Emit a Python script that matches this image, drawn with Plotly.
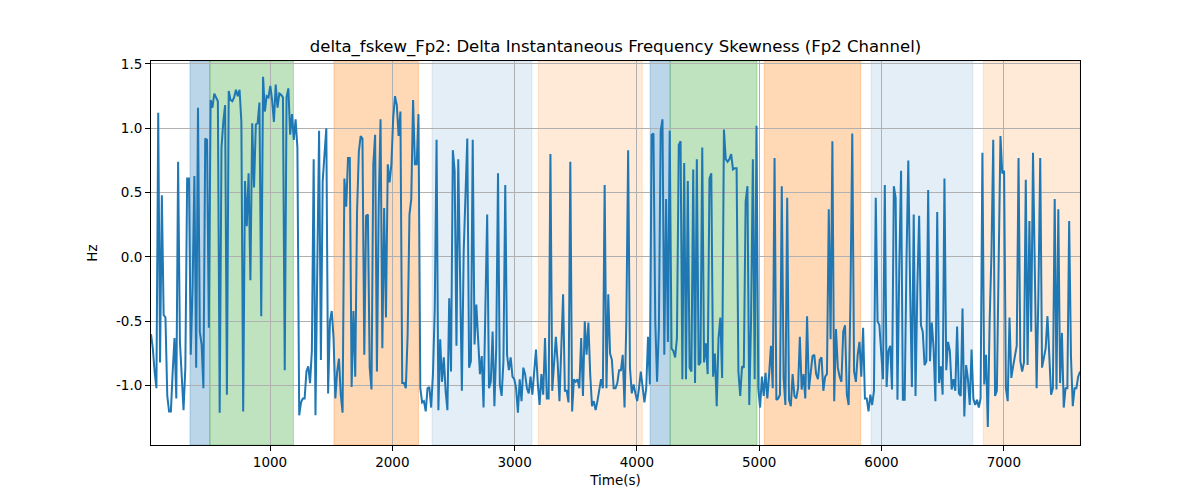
import numpy as np
import plotly.graph_objects as go

# ---- data (Hz) ----
seg1 = [-0.60,-0.71,-0.89,-1.02,1.12,-0.82,0.48,-0.45,-0.47,-1.08,-1.20,-1.20,-0.89,-0.63,-1.10,0.74,-0.66,-0.99,-1.19,-0.86,
        0.61,0.61,-0.76,-0.24,0.63,-0.86,1.16,-0.58,-0.68,-1.02,0.92,0.91,-0.55,1.22,1.16,1.27,1.24,1.21,-1.21,0.85,
        1.05,1.18,-1.07,1.29,1.22,1.21,1.24,1.30,1.25,1.30,1.05,-1.20,0.59,0.24,0.65,-0.18,1.04,0.54,1.03,1.04,1.20,-0.46,1.40]
seg2 = [1.13,1.25,1.24,1.33,1.22,1.05,1.34,1.16,1.27,1.26,1.24,-0.88,1.24,1.31,0.95,1.11,0.91,1.07,0.85,-1.23,
        -1.13,-1.10,-1.10,-0.89,-0.85,-0.98,-0.73,0.76,-1.23,-0.09,0.98,-0.80,0.59,0.80,1.00,-1.06,-0.50,-0.42,-0.63,-1.10,
        -0.89,-0.79,-1.07,-1.21,0.61,0.39,0.77,0.77,-1.01,-0.42,-0.93,0.35,0.82,0.94,0.92,-0.76,0.32,0.33,-0.86,-1.03,
        0.72,0.95,-0.89,0.41,1.07,-0.71,0.38]
seg3 = [-0.47,0.72,0.58,0.72,1.08,1.25,1.18,0.94,1.13,-0.98,-0.98,-1.02,-0.60,0.33,0.45,1.22,0.72,0.72,1.11,-1.02,
        -1.13,-1.12,-1.20,-1.02,-1.01,-1.17,-0.91,-0.40,0.91,-1.19,-0.64,-0.97,-0.78,-1.04,-1.19,-0.32,-0.89,0.83,0.67,-0.69,
        0.76,-0.24,-1.04,0.04,0.59,0.92,-0.86,-0.81,0.91,-0.68,-0.37,-0.71,-0.91,-0.77,-1.17,-0.40,0.33,-1.02,-0.97,-0.58,
        -1.16,-0.71,0.65,-0.99,-1.08,-0.81,0.56]
seg4 = [-0.76,-0.88,-0.78,-0.93,-0.95,-1.02,-1.21,-0.95,-1.12,-0.86,-0.91,-1.02,-1.06,-0.93,-1.07,-0.85,-0.72,-0.98,-1.15,-0.91,
        -1.07,-0.63,-1.10,-1.10,0.80,-1.04,-0.85,-0.62,-0.82,-1.12,-0.71,-0.29,-1.04,-1.04,-1.13,0.74,-1.20,-0.95,-0.97,-0.95,
        -1.02,-0.63,-1.08,-0.50,-0.76,-0.51,-0.91,-1.16,-1.12,-1.19,-1.12,-1.04,-0.95,-1.02,0.56,-1.02,-0.29,-0.75,-0.80,-1.02,
        -1.02,-0.98,-0.88,-0.88,-0.76,-1.17]
seg5 = [-0.50,0.83,-0.86,-1.06,-0.99,-1.06,-1.12,-1.02,-0.89,-1.01,-1.13,-1.02,-0.62,-0.99,0.95,0.96,-0.50,-0.97,-0.55,0.98,
        1.07,-0.76,0.45,-0.66,0.98,-0.71,-0.73,-0.78,-0.63,0.87,0.90,-0.95,0.73,-0.95,0.59,-0.86,-0.89,0.68,-0.98,0.76,
        -0.84,-0.82,0.85,-0.82,-0.67,-0.91,0.61,0.65,-0.93,-0.75,-1.16,-0.63,-0.47,-0.94,0.99,0.76,0.74,0.76,0.80,0.68,
        0.69,0.69,-0.89,-1.08,-0.85,-0.86,0.43,0.55]
seg6 = [-1.15,-0.50,0.76,-0.95,1.02,-1.02,-1.17,-0.93,-1.08,-0.90,-1.10,-0.91,-0.69,-1.02,0.77,-1.11,-1.10,-1.07,0.55,-0.94,
        -1.15,0.46,-1.11,-1.16,-0.91,-1.08,-1.10,-1.02,-0.62,-1.03,-0.91,-1.10,-0.46,-1.03,-0.91,-0.77,-0.76,-0.91,-0.95,-0.80,
        -0.78,-1.04,-0.93,-0.91,0.37,-0.64,0.90,-1.12,-0.56,-0.86,-0.93,-0.97,-0.58,-0.53,-1.07,-1.15,-0.32,0.96,-0.89,-0.97,
        -0.76,-0.66,-0.93,-0.55,-1.10]
seg7 = [-1.10,-1.20,-1.07,-1.15,-1.04,0.46,-0.50,-0.53,-0.71,-0.95,0.56,-1.01,-0.73,-0.69,-1.03,0.55,0.46,-1.11,-0.09,0.67,
        -1.11,-1.11,-0.03,0.75,-0.24,-1.01,0.33,-1.08,-0.24,0.32,-0.53,-0.58,-0.84,-0.81,0.52,-0.81,-0.51,-0.71,-1.12,0.35,
        -0.98,-0.85,-1.07,0.61,-0.88,-0.66,-0.73,-1.03,-0.95,-1.04,-0.54,-1.06,-1.08,-0.40,-1.24,-0.84,-0.95,-1.15,-0.72,-1.10,
        -1.15,-1.11,-1.17,-1.10,0.81,-0.99]
seg8 = [-0.76,-1.32,-0.50,0.02,0.91,-1.08,-1.04,0.02,0.94,0.65,0.67,-1.02,-1.12,-0.47,-0.94,-0.85,-0.77,-0.69,0.77,-0.81,
        -0.89,-0.82,0.60,-0.84,0.28,-0.58,0.81,-0.34,-1.02,-0.28,0.77,-0.86,-0.78,-0.71,-0.46,-0.84,-1.07,-1.02,0.45,-1.03,
        0.37,-0.98,-0.59,-1.17,-1.02,-1.02,0.28,-0.77,-1.16,-1.02,-1.02,-0.93,-0.89]

values = seg1 + seg2 + seg3 + seg4 + seg5 + seg6 + seg7 + seg8
t_start, t_end = 27, 7623
time = np.linspace(t_start, t_end, len(values))

# shaded intervals (start, end, color, alpha)
span_starts = [346, 509, 1523, 2325, 3194, 4108, 4272, 5042, 5914, 6832]
span_ends   = [509, 1192, 2214, 3142, 4044, 4272, 4982, 5830, 6746, 7623]
span_colors = ["#1f77b4", "#2ca02c", "#ff7f0e", "#1f77b4", "#ff7f0e",
               "#1f77b4", "#2ca02c", "#ff7f0e", "#1f77b4", "#ff7f0e"]
span_alphas = [0.3, 0.3, 0.3, 0.12, 0.16, 0.3, 0.3, 0.3, 0.12, 0.16]

x_ticks = [1000, 2000, 3000, 4000, 5000, 6000, 7000]
y_ticks = [-1.0, -0.5, 0.0, 0.5, 1.0, 1.5]


def rgba(hex_color, a):
    h = hex_color.lstrip("#")
    r, g, b = int(h[0:2], 16), int(h[2:4], 16), int(h[4:6], 16)
    return f"rgba({r},{g},{b},{a})"


fig = go.Figure()
for s, e, c, a in zip(span_starts, span_ends, span_colors, span_alphas):
    fig.add_vrect(x0=s, x1=e, fillcolor=rgba(c, a), line=dict(color=rgba(c, a), width=1),
                  layer="below")

fig.add_trace(go.Scatter(x=time, y=values, mode="lines",
                         line=dict(color="#1f77b4", width=2), hoverinfo="skip"))

axis_common = dict(showline=True, linecolor="black", linewidth=1, mirror=True,
                   ticks="outside", ticklen=5, tickcolor="black", tickwidth=1,
                   showgrid=True, gridcolor="#b0b0b0", gridwidth=1, zeroline=False,
                   tickfont=dict(family="DejaVu Sans", size=13.5, color="black"))

fig.update_xaxes(range=[t_start, t_end], tickvals=x_ticks, ticktext=[str(v) for v in x_ticks],
                 title=dict(text="Time(s)", font=dict(family="DejaVu Sans", size=13.5, color="black"),
                            standoff=6),
                 **axis_common)
fig.update_yaxes(range=[-1.461, 1.523], tickvals=y_ticks, ticktext=[f"{v:.1f}" for v in y_ticks],
                 title=dict(text="Hz", font=dict(family="DejaVu Sans", size=13.5, color="black"),
                            standoff=15),
                 **axis_common)

# the page body adds an 8px offset, so the figure is slightly smaller
W, H = 1192, 492
fig.update_layout(
    width=W, height=H,
    margin=dict(l=143, r=120, t=53, b=55),
    plot_bgcolor="white", paper_bgcolor="white",
    showlegend=False,
    title=dict(text="delta_fskew_Fp2: Delta Instantaneous Frequency Skewness (Fp2 Channel)",
               x=0.5, xref="paper", xanchor="center",
               y=1 - 38 / H, yref="container", yanchor="middle",
               font=dict(family="DejaVu Sans", size=16.5, color="black")),
)

fig.write_html("out.html")
